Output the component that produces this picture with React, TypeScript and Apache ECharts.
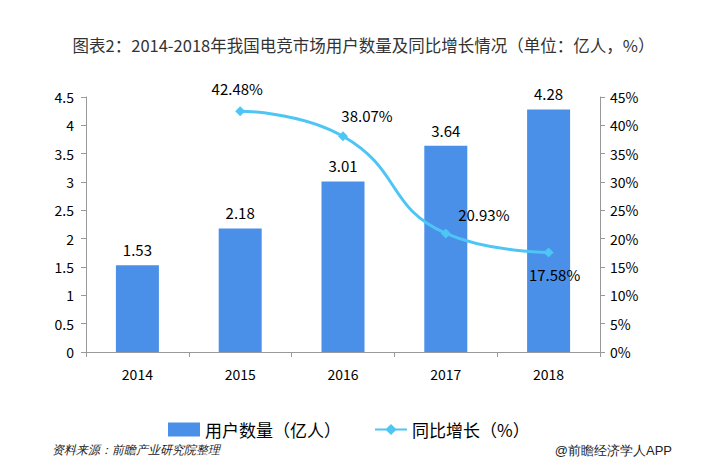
import React, { useEffect, useRef } from "react";
import * as echarts from "echarts";

const categories = ["2014", "2015", "2016", "2017", "2018"];
const users = [1.53, 2.18, 3.01, 3.64, 4.28];
const growth: (number | null)[] = [null, 42.48, 38.07, 20.93, 17.58];
const title = "图表2：2014-2018年我国电竞市场用户数量及同比增长情况（单位：亿人，%）";
const seriesNames = ["用户数量（亿人）", "同比增长（%）"];
const source = "资料来源：前瞻产业研究院整理";
const credit = "@前瞻经济学人APP";

const FONT = "'Microsoft YaHei', 'Noto Sans CJK SC', 'Noto Sans', sans-serif";

export default function App() {
  const ref = useRef<HTMLDivElement>(null);
  useEffect(() => {
    document.body.style.margin = "0";
    const chart = echarts.init(ref.current!, undefined, { renderer: "svg" });
    const labelCfg: any[] = [
      null,
      { position: "top", distance: 10, offset: [-3, 0] },
      { position: "top", distance: 8, offset: [24, 0] },
      { position: "top", distance: 4, offset: [38, -2] },
      { position: "bottom", distance: 10, offset: [6, 0] },
    ];
    chart.setOption({
      animation: false,
      textStyle: { fontFamily: FONT },
      title: {
        text: title,
        left: "center",
        top: 32,
        textStyle: { fontSize: 16.5, fontWeight: "normal", color: "#333", fontFamily: FONT },
      },
      legend: {
        bottom: 29,
        left: 163,
        itemGap: 33,
        itemWidth: 32,
        itemHeight: 14,
        textStyle: { fontSize: 17, color: "#000", fontFamily: FONT },
        data: [
          { name: seriesNames[0], icon: "rect" },
          { name: seriesNames[1] },
        ],
      },
      grid: { left: 86, right: 127, top: 97, bottom: 120 },
      xAxis: {
        type: "category",
        data: categories,
        axisLine: { lineStyle: { color: "#999" } },
        axisTick: { show: true, length: 5, lineStyle: { color: "#999" } },
        axisLabel: { fontSize: 14, color: "#000", margin: 15 },
      },
      yAxis: [
        {
          type: "value",
          min: 0,
          max: 4.5,
          interval: 0.5,
          splitLine: { show: false },
          axisLine: { show: true, lineStyle: { color: "#999" } },
          axisTick: { show: true, length: 5, lineStyle: { color: "#999" } },
          axisLabel: { fontSize: 14, color: "#000", margin: 12 },
        },
        {
          type: "value",
          min: 0,
          max: 45,
          interval: 5,
          splitLine: { show: false },
          axisLine: { show: true, lineStyle: { color: "#999" } },
          axisTick: { show: true, length: 5, lineStyle: { color: "#999" } },
          axisLabel: { fontSize: 14, color: "#000", margin: 10, formatter: "{value}%" },
        },
      ],
      series: [
        {
          name: seriesNames[0],
          type: "bar",
          data: users,
          barWidth: 43,
          itemStyle: { color: "#4a8fe8" },
          label: {
            show: true,
            position: "top",
            distance: 8,
            fontSize: 15,
            color: "#000",
            formatter: (p: any) => p.value.toFixed(2),
          },
        },
        {
          name: seriesNames[1],
          type: "line",
          yAxisIndex: 1,
          smooth: true,
          symbol: "diamond",
          symbolSize: 10,
          lineStyle: { color: "#4dc6f6", width: 3 },
          itemStyle: { color: "#4dc6f6" },
          data: growth.map((v, i) =>
            v == null
              ? null
              : {
                  value: v,
                  label: {
                    show: true,
                    fontSize: 15,
                    color: "#000",
                    formatter: (p: any) => p.value.toFixed(2) + "%",
                    ...labelCfg[i],
                  },
                }
          ),
        },
      ],
      graphic: [
        {
          type: "text",
          left: 52,
          top: 444,
          style: { text: source, fontSize: 12, fontStyle: "italic", fill: "#222", font: "italic 12px " + FONT },
        },
        {
          type: "text",
          right: 55,
          top: 444,
          style: { text: credit, fontSize: 13, fill: "#222", font: "13px " + FONT },
        },
      ],
    });
    return () => chart.dispose();
  }, []);
  return <div ref={ref} style={{ position: "absolute", left: 0, top: 0, width: 727, height: 472 }} />;
}
